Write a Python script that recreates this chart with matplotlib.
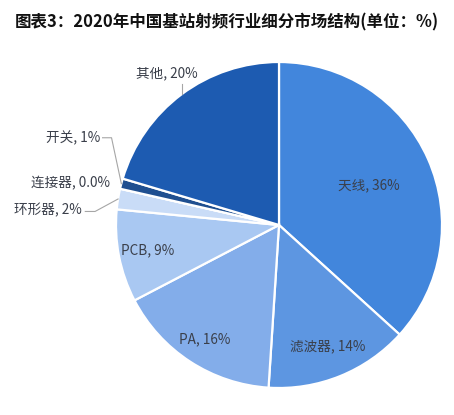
import matplotlib.pyplot as plt
import numpy as np

plt.rcParams['font.family'] = ['Noto Sans CJK SC', 'DejaVu Sans']

# segment data (单位: %), clockwise from 12 o'clock
names = ['天线', '滤波器', 'PA', 'PCB', '环形器', '连接器', '开关', '其他']
shares = [36, 14, 16, 9, 2, 0.0, 1, 20]
share_text = ['36%', '14%', '16%', '9%', '2%', '0.0%', '1%', '20%']
colors = ['#4286DC', '#5D96E1', '#83ADEA', '#A9C8F2', '#C9DCF7', '#DCE8F9', '#1F4F90', '#1D5BB1']

fig = plt.figure(figsize=(4.54, 4.15), dpi=100)
ax = fig.add_axes([0, 0, 1, 1])

# pie center / radius in pixels -> data limits
cx, cy, R = 279, 225, 163
W, H = 454, 415

wedges, _ = ax.pie(shares, startangle=90, counterclock=False, colors=colors,
                   radius=1, center=(0, 0), normalize=True, frame=True,
                   wedgeprops=dict(edgecolor='white', linewidth=1.6))
ax.set_xlim(-cx / R, (W - cx) / R)
ax.set_ylim(-(H - cy) / R, cy / R)
ax.set_aspect('equal')
ax.axis('off')

txt_color = '#3A3F4A'
fs = 9.8

# inside labels: radius factor
inside_r = {'天线': 0.60, '滤波器': 0.80, 'PA': 0.84, 'PCB': 0.82}
# outside labels: (angle deg, radius, ha)
outside = {'环形器': (175.6, 1.212, 'right'),
           '连接器': (166.0, 1.068, 'right'),
           '开关': (154.0, 1.221, 'right'),
           '其他': (126.4, 1.158, 'center')}

for w, name, t in zip(wedges, names, share_text):
    mid = np.deg2rad((w.theta1 + w.theta2) / 2)
    ex, ey = np.cos(mid), np.sin(mid)
    label = f'{name}, {t}'
    if name in inside_r:
        r = inside_r[name]
        ax.text(r * ex, r * ey, label, ha='center', va='center',
                fontsize=fs, color=txt_color)
    else:
        a, r, ha = outside[name]
        tx, ty = r * np.cos(np.deg2rad(a)), r * np.sin(np.deg2rad(a))
        ax.text(tx, ty, label, ha=ha, va='center', fontsize=fs, color=txt_color)
        if name == '其他':
            ax.plot([ex, ex], [ty - 0.07, ey], color='#A6A6A6', lw=0.8)
        elif name == '开关':
            ax.plot([tx + 0.015, tx + 0.07, ex], [ty, ty, ey], color='#A6A6A6', lw=0.8)
        elif name == '环形器':
            ax.plot([tx + 0.02, tx + 0.08, ex], [ty - 0.01, ty - 0.01, ey], color='#A6A6A6', lw=0.8)

fig.text(0.5, 1 - 22 / H, '图表3：2020年中国基站射频行业细分市场结构(单位：%)',
         ha='center', va='center', fontsize=11.9, fontweight='bold', color='#111111')

fig.savefig('out.png', dpi=100)
